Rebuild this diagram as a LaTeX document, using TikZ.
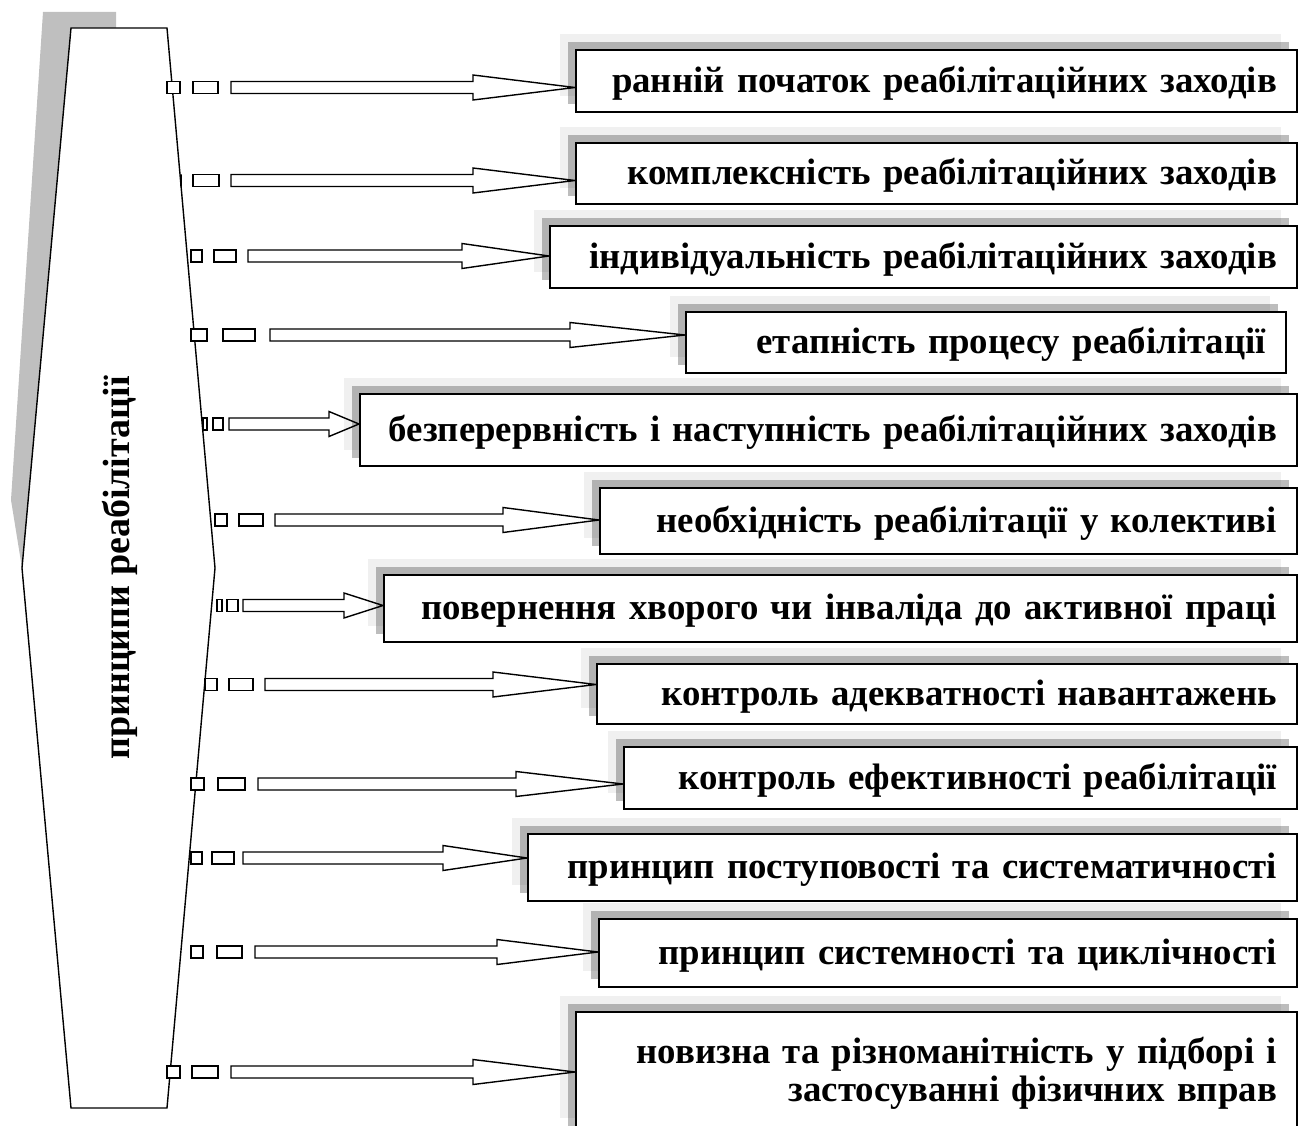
\documentclass[tikz,border=0pt]{standalone}
\usepackage{fontspec}
\setmainfont{Liberation Serif}
\usetikzlibrary{shadows}
\definecolor{hexshadow}{HTML}{BFBFBF}
\pgfdeclarelayer{background}
\pgfsetlayers{background,main}
\tikzset{
  principle/.style={draw, line width=1.8pt, fill=white, anchor=north west,
    inner xsep=20pt, inner ysep=0pt, align=right,
    font=\bfseries\fontsize{36.8}{38}\selectfont,
    general shadow={fill=black, opacity=0.06, shadow xshift=-16pt, shadow yshift=16pt},
    general shadow={fill=black, opacity=0.26, shadow xshift=-8pt, shadow yshift=8pt}},
  oneline/.style={text height=28pt, text depth=5pt},
  twolines/.style={},
  stripe/.style={draw, line width=1.4pt, fill=white, line join=miter},
  hexframe/.style={draw, line width=1.4pt, fill=white}
}
\begin{document}
\begin{tikzpicture}[x=1pt,y=-1pt]
  \useasboundingbox (0,0) rectangle (1299,1126);
  % principle boxes: name / left / top / right / bottom / style / text
  \foreach \i/\l/\t/\r/\b/\kind/\txt in {
      1/575/49/1296/111/oneline/{ранній початок реабілітаційних заходів},
      2/575/142/1296/203/oneline/{комплексність реабілітаційних заходів},
      3/549/225/1296/287/oneline/{індивідуальність реабілітаційних заходів},
      4/685/311/1285/372/oneline/{етапність процесу реабілітації},
      5/359/393/1296/465/oneline/{безперервність і наступність реабілітаційних заходів},
      6/599/487/1296/553/oneline/{необхідність реабілітації у колективі},
      7/383/574/1296/641/oneline/{повернення хворого чи інваліда до активної праці},
      8/596/663/1296/723/oneline/{контроль адекватності навантажень},
      9/623/746/1296/808/oneline/{контроль ефективності реабілітації},
      10/527/833/1296/900/oneline/{принцип поступовості та систематичності},
      11/598/918/1296/986/oneline/{принцип системності та циклічності},
      12/575/1011/1296/1133/twolines/{новизна та різноманітність у підборі і\\застосуванні фізичних вправ}} {
    \pgfmathsetmacro\bw{\r-\l}
    \pgfmathsetmacro\bh{\b-\t}
    \pgfmathsetmacro\tw{\r-\l-40}
    \node[principle, \kind, minimum width=\bw pt, minimum height=\bh pt, text width=\tw pt] (b\i) at (\l,\t) {\txt};
  }
  % title on the hexagon
  \node[font=\bfseries\fontsize{38}{38}\selectfont, rotate=90] (title) at (120,568) {принципи реабілітації};
  \begin{pgfonlayer}{background}
    % hexagon with its shadow
    \fill[hexshadow] (43,12) -- (116,12) -- (116,28) -- (71,28) -- (22,568) -- (11,500) -- cycle;
    \draw[hexframe] (71,28) -- (167,28) -- (215,568) -- (167,1108) -- (71,1108) -- (22,568) -- cycle;
    % striped arrows: box / y / stripe 1 / stripe 2 / shaft start / head start
    \foreach \i/\y/\sa/\sb/\sc/\sd/\se/\hs in {
        1/87.5/167/180/193/218/231/473,
        2/180.5/181/181/193/219/231/473,
        3/256/191/202/214/236/248/462,
        4/335/191/207/223/255/270/570,
        5/424/203/207/213/223/229/329,
        6/520/215/227/239/263/275/503,
        7/605.5/217/222/227/238/243/344,
        8/684.5/205/217/229/253/265/493,
        9/784/191/204/218/245/258/516,
        10/858/191/202/212/234/243/443,
        11/952/191/203/217/242/255/497,
        12/1072/167/180/192/218/231/473} {
      \draw[stripe] (\sa,\y-6) rectangle (\sb,\y+6);
      \draw[stripe] (\sc,\y-6) rectangle (\sd,\y+6);
      \draw[stripe] (\se,\y-6) -- (\hs,\y-6) -- (\hs,\y-12.5) -- (b\i.west |- \hs,\y)
        -- (\hs,\y+12.5) -- (\hs,\y+6) -- (\se,\y+6) -- cycle;
    }
  \end{pgfonlayer}
\end{tikzpicture}
\end{document}
